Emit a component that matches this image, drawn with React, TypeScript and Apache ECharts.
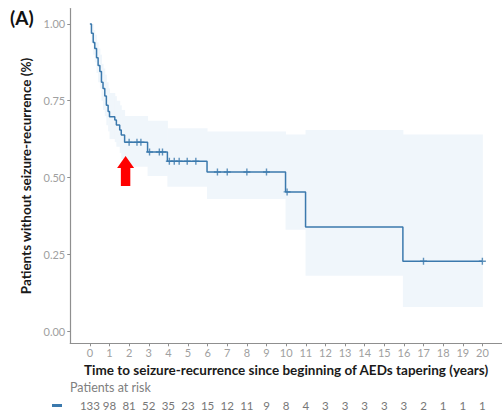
import React, { useEffect, useRef } from "react";
import * as echarts from "echarts";

// Kaplan-Meier step points (years, survival proportion)
const kmTimes = [0, 0.08, 0.17, 0.25, 0.34, 0.42, 0.51, 0.59, 0.67, 0.76, 0.84, 0.93, 1.0, 1.27, 1.35, 1.52, 1.6, 1.77, 2.94, 3.95, 5.97, 9.97, 10.99, 15.95, 20];
const kmSurv = [1.0, 0.97, 0.94, 0.92, 0.89, 0.865, 0.845, 0.81, 0.79, 0.765, 0.735, 0.715, 0.698, 0.687, 0.671, 0.655, 0.638, 0.615, 0.583, 0.553, 0.518, 0.453, 0.339, 0.227, 0.227];
// 95% confidence band, same time grid
const ciLower = [1.0, 0.94, 0.9, 0.875, 0.84, 0.81, 0.79, 0.75, 0.72, 0.7, 0.67, 0.65, 0.625, 0.615, 0.6, 0.58, 0.56, 0.535, 0.505, 0.47, 0.43, 0.33, 0.18, 0.078, 0.078];
const ciUpper = [1.0, 1.0, 0.98, 0.965, 0.94, 0.92, 0.9, 0.87, 0.855, 0.835, 0.81, 0.79, 0.775, 0.765, 0.75, 0.735, 0.72, 0.7, 0.685, 0.66, 0.65, 0.64, 0.655, 0.64, 0.64];
// censoring marks
const censorTimes = [2.0, 2.4, 2.6, 3.04, 3.54, 3.7, 4.05, 4.3, 4.55, 4.96, 5.4, 6.5, 7.0, 8.0, 9.0, 10.05, 17.0, 20.0];
const censorSurv = [0.615, 0.615, 0.615, 0.583, 0.583, 0.583, 0.553, 0.553, 0.553, 0.553, 0.553, 0.518, 0.518, 0.518, 0.518, 0.453, 0.227, 0.227];
// x ticks and patients at risk
const yearTicks = [0, 1, 2, 3, 4, 5, 6, 7, 8, 9, 10, 11, 12, 13, 14, 15, 16, 17, 18, 19, 20];
const atRisk = [133, 98, 81, 52, 35, 23, 15, 12, 11, 9, 8, 4, 3, 3, 3, 3, 3, 2, 1, 1, 1];
const yTicks = [0, 0.25, 0.5, 0.75, 1.0];
// arrow annotation location
const arrowAt = [1.82, 0.521];

const LINE = "#3b79ad";
const BAND = "#f0f6fb";
const GREY = "#a0a0a0";
const AXIS = "#8f8f8f";

export default function App() {
  const ref = useRef<HTMLDivElement>(null);
  useEffect(() => {
    if (!ref.current) return;
    const chart = echarts.init(ref.current, null, { renderer: "svg" });
    const gridLeft = 70.25;
    const gridWidth = 434.5;
    const bandData = kmTimes.slice(0, -1).map((t, i) => [t, kmTimes[i + 1], ciLower[i], ciUpper[i]]);
    const option: any = {
      animation: false,
      backgroundColor: "#ffffff",
      grid: [
        { left: gridLeft, top: 8.6, width: gridWidth, height: 334.7 },
        { left: gridLeft, top: 396, width: gridWidth, height: 1 },
      ],
      xAxis: [
        {
          type: "value",
          gridIndex: 0,
          min: -1,
          max: 21,
          name: "Time to seizure-recurrence since beginning of AEDs tapering (years)",
          nameLocation: "middle",
          nameGap: 18,
          nameTextStyle: { color: "#1a1a1a", fontFamily: "Lato", fontWeight: "bold", fontSize: 13.5 },
          axisLine: { show: true, onZero: false, lineStyle: { color: AXIS, width: 1.2 } },
          axisTick: { show: true, length: 3, customValues: yearTicks, lineStyle: { color: AXIS } },
          axisLabel: { customValues: yearTicks, color: GREY, fontFamily: "Lato", fontSize: 11, margin: 4 },
          splitLine: { show: false },
        },
        {
          type: "value",
          gridIndex: 1,
          min: -1,
          max: 21,
          axisLine: { show: false },
          axisTick: { show: false },
          splitLine: { show: false },
          axisLabel: {
            customValues: yearTicks,
            color: "#777777",
            fontFamily: "Lato",
            fontSize: 11.5,
            margin: 2,
            formatter: (v: number) => {
              const i = yearTicks.indexOf(Math.round(v));
              return i >= 0 ? String(atRisk[i]) : "";
            },
          },
        },
      ],
      yAxis: [
        {
          type: "value",
          gridIndex: 0,
          min: -0.04,
          max: 1.05,
          name: "Patients without seizure-recurrence (%)",
          nameLocation: "middle",
          nameGap: 25,
          nameRotate: 90,
          nameTextStyle: { color: "#1a1a1a", fontFamily: "Lato", fontWeight: "bold", fontSize: 13.5 },
          axisLine: { show: true, onZero: false, lineStyle: { color: AXIS, width: 1.2 } },
          axisTick: { show: true, length: 3, customValues: yTicks, lineStyle: { color: AXIS } },
          axisLabel: {
            customValues: yTicks,
            color: GREY,
            fontFamily: "Lato",
            fontSize: 11,
            margin: 5,
            formatter: (v: number) => v.toFixed(2),
          },
          splitLine: { show: false },
        },
        {
          type: "value",
          gridIndex: 1,
          min: 0,
          max: 1,
          show: false,
        },
      ],
      series: [
        {
          type: "custom",
          name: "ci",
          data: bandData,
          encode: { x: [0, 1], y: [2, 3] },
          z: 1,
          renderItem: (params: any, api: any) => {
            const p0 = api.coord([api.value(0), api.value(3)]);
            const p1 = api.coord([api.value(1), api.value(2)]);
            return {
              type: "rect",
              shape: { x: p0[0], y: p0[1], width: p1[0] - p0[0] + 0.5, height: p1[1] - p0[1] },
              style: { fill: BAND },
            };
          },
        },
        {
          type: "line",
          name: "KM",
          step: "end",
          symbol: "none",
          lineStyle: { color: LINE, width: 1.5 },
          data: kmTimes.map((t, i) => [t, kmSurv[i]]),
          z: 3,
        },
        {
          type: "scatter",
          name: "censor",
          symbol: "path://M4,0H6V10H4Z M0,4H10V6H0Z",
          symbolSize: 7,
          itemStyle: { color: LINE },
          data: censorTimes.map((t, i) => [t, censorSurv[i]]),
          z: 4,
          markPoint: {
            symbol: "path://M9,0L18,12L14,12L14,30L4,30L4,12L0,12Z",
            symbolSize: [17, 30],
            itemStyle: { color: "#ff0000" },
            label: { show: false },
            data: [{ coord: arrowAt }],
          },
        },
        {
          type: "scatter",
          xAxisIndex: 1,
          yAxisIndex: 1,
          data: [],
        },
      ],
      graphic: [
        {
          type: "text",
          left: 10,
          top: 8,
          style: { text: "(A)", fontFamily: "Lato", fontWeight: "bold", fontSize: 19, fill: "#111" },
        },
        {
          type: "text",
          left: 70,
          top: 381,
          style: { text: "Patients at risk", fontFamily: "Lato", fontSize: 12.5, fill: "#808080" },
        },
        {
          type: "rect",
          left: 52,
          top: 404,
          shape: { width: 10, height: 3 },
          style: { fill: LINE },
        },
      ],
    };
    chart.setOption(option);
    return () => chart.dispose();
  }, []);
  return (
    <div
      ref={ref}
      style={{ position: "absolute", left: 0, top: 0, width: 502, height: 412 }}
    />
  );
}
